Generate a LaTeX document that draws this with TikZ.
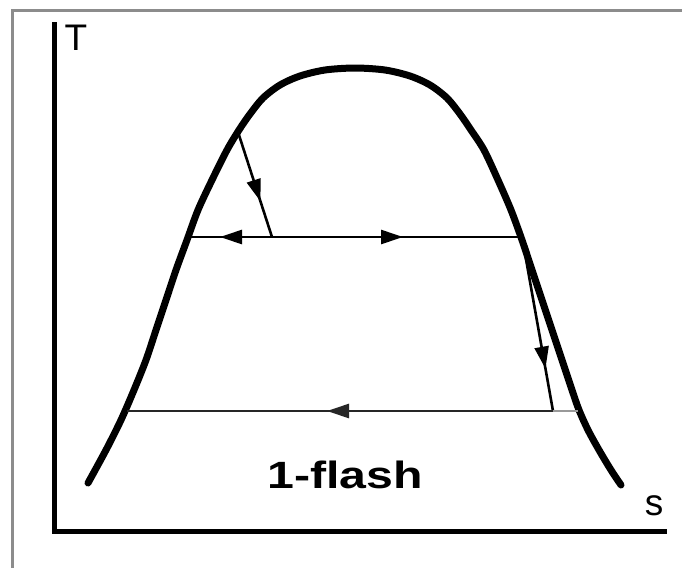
\documentclass[tikz,border=0pt]{standalone}
\usepackage{fontspec}
\setmainfont{Liberation Sans}
\usetikzlibrary{arrows.meta,decorations.markings}
\tikzset{
  frameline/.style={draw=black!45, line width=3pt},
  axisline/.style={draw=black, line width=5pt},
  domeline/.style={draw=black, line width=7pt, line cap=round},
  procline/.style={draw=black, line width=2.6pt},
  flowtip/.tip={Triangle[length=22pt,width=14pt]},
  lbl/.style={font=\fontsize{37}{40}\selectfont, inner sep=0pt, anchor=base},
}
\begin{document}
\begin{tikzpicture}[x=1pt,y=-1pt]
\useasboundingbox (0,0) rectangle (682,568);
\fill[white] (0,0) rectangle (682,568);
% frame
\draw[frameline] (682,10) -- (12,10) -- (12,568);
% axes
\coordinate (ytop) at (54,22);
\coordinate (origin) at (54,531);
\coordinate (xend) at (667,531);
\draw[axisline] (ytop) -- (origin) -- (xend);
\node[lbl] (T) at (76,50) {T};
\node[lbl] (S) at (654,515) {s};
% dome
\draw[domeline] plot[smooth, tension=0.5] coordinates {
 (88,483) (106,450) (121,420) (134,390) (146,360) (156,330) (166,300)
 (176,270) (187,240) (198,210) (212,180) (227,150) (239,130) (250,114)
 (263,98) (280,85) (300,76) (325,70) (355,68)
 (385,70) (410,76) (430,85) (447,98) (460,114) (471,130) (484,150)
 (498,180) (511,210) (522,240) (532,270) (542,300) (552,330) (562,360)
 (572,390) (579,410) (588,430) (599,450) (611,470) (621,485)};
% process points
\coordinate (a) at (238,132);
\coordinate (b) at (272,237);
\coordinate (c) at (187,237);
\coordinate (d) at (520,237);
\coordinate (e) at (524,248);
\coordinate (f) at (553,411);
\coordinate (g) at (127,411);
\coordinate (h) at (578,411);
% throttling line
\draw[procline, postaction={decorate}, decoration={markings,
  mark=at position 0.66 with {\arrow{flowtip}}}] (a) -- (b);
% upper evaporation line
\draw[procline, postaction={decorate}, decoration={markings,
  mark=at position 33pt with {\arrowreversed{flowtip}},
  mark=at position 216pt with {\arrow{flowtip}}}] (c) -- (d);
% expansion line
\draw[procline, postaction={decorate}, decoration={markings,
  mark=at position 0.74 with {\arrow{flowtip}}}] (e) -- (f);
% condensation line
\draw[procline, draw=black!85, postaction={decorate}, decoration={markings,
  mark=at position 226pt with {\arrow{flowtip}}}] (f) -- (g);
\draw[line width=2pt, draw=black!40] (f) -- (h);
% label
\node[inner sep=0pt, anchor=base] (flash) at (345,488)
  {\scalebox{1.27}[1]{\fontsize{38}{40}\selectfont\bfseries 1-flash}};
\end{tikzpicture}
\end{document}
